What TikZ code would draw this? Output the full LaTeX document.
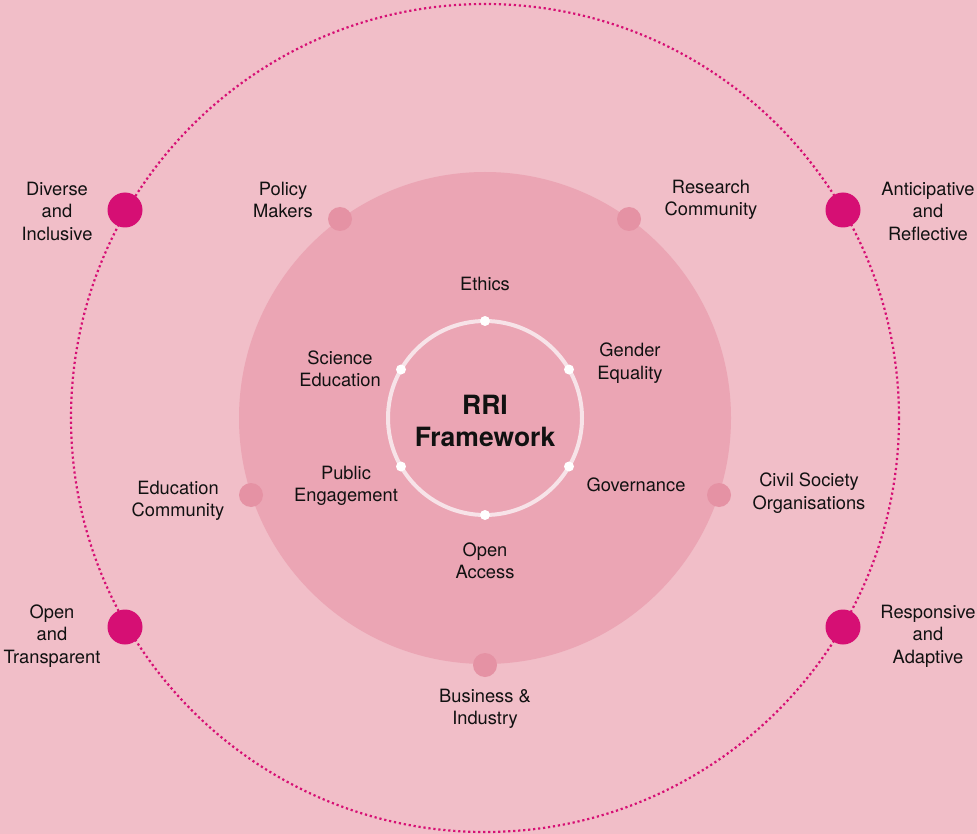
\documentclass[tikz,border=0pt]{standalone}
\usepackage{fontspec}
\usetikzlibrary{calc}
\setmainfont{TeX Gyre Heros}
\definecolor{bgpink}{HTML}{F1BEC8}
\definecolor{midpink}{HTML}{EBA5B4}
\definecolor{stakedot}{HTML}{E592A4}
\definecolor{magenta}{HTML}{D60F74}
\definecolor{ringwhite}{HTML}{F7E3E8}
\definecolor{ink}{HTML}{111111}
\begin{document}
\begin{tikzpicture}[x=1pt,y=-1pt,
  lbl/.style={align=center,text=ink,font=\fontsize{18.3}{22.5}\selectfont,inner sep=0pt},
  stakeholder/.style={circle,fill=stakedot,minimum size=24pt,inner sep=0pt},
  principle/.style={circle,fill=magenta,minimum size=35pt,inner sep=0pt},
  keydot/.style={circle,fill=white,minimum size=10pt,inner sep=0pt}]
  % canvas
  \fill[bgpink] (0,0) rectangle (977,834);
  \useasboundingbox (0,0) rectangle (977,834);
  \coordinate (c) at (485,418);
  % stakeholder disc
  \fill[midpink] (c) circle[radius=246];
  % outer dotted orbit
  \draw[magenta,line width=2.2pt,dash pattern=on 2.2pt off 2.8pt] (c) circle[radius=414];
  % inner ring of key areas
  \draw[ringwhite,line width=4pt] (c) circle[radius=97];
  \foreach \n/\a in {eth/90,gen/30,gov/-30,oa/-90,pe/-150,se/150}
    \node[keydot] (k\n) at ($(c)+(\a:97)$) {};
  % principles on the orbit
  \node[principle] (pdi) at (125,210) {};
  \node[principle] (par) at (843,210) {};
  \node[principle] (pot) at (125,627) {};
  \node[principle] (pra) at (843,627) {};
  % stakeholders on the disc edge
  \node[stakeholder] (spm) at (340,219) {};
  \node[stakeholder] (src) at (629,219) {};
  \node[stakeholder] (sec) at (251,495) {};
  \node[stakeholder] (scs) at (719,495) {};
  \node[stakeholder] (sbi) at (485,665) {};
  % labels
  \node[lbl] (tdi) at (57,211) {Diverse\\and\\Inclusive};
  \node[lbl] (tar) at (928,211) {Anticipative\\and\\Reflective};
  \node[lbl] (tot) at (52,636) {Open\\and\\Transparent};
  \node[lbl] (tra) at (928,636) {Responsive\\and\\Adaptive};
  \node[lbl] (tpm) at (283,200) {Policy\\Makers};
  \node[lbl] (trc) at (711,200) {Research\\Community};
  \node[lbl] (tec) at (178,501) {Education\\Community};
  \node[lbl] (tcs) at (809,493) {Civil Society\\Organisations};
  \node[lbl] (tbi) at (485,709) {Business \&\\Industry};
  \node[lbl] (teth) at (485,284) {Ethics};
  \node[lbl] (tse) at (340,369) {Science\\Education};
  \node[lbl] (tgen) at (630,363) {Gender\\Equality};
  \node[lbl] (tpe) at (346,486) {Public\\Engagement};
  \node[lbl] (tgov) at (636,485) {Governance};
  \node[lbl] (toa) at (485,561) {Open\\Access};
  \node[lbl,font=\fontsize{26.5}{32}\selectfont\bfseries] (rri) at (485,421) {RRI\\Framework};
\end{tikzpicture}
\end{document}
